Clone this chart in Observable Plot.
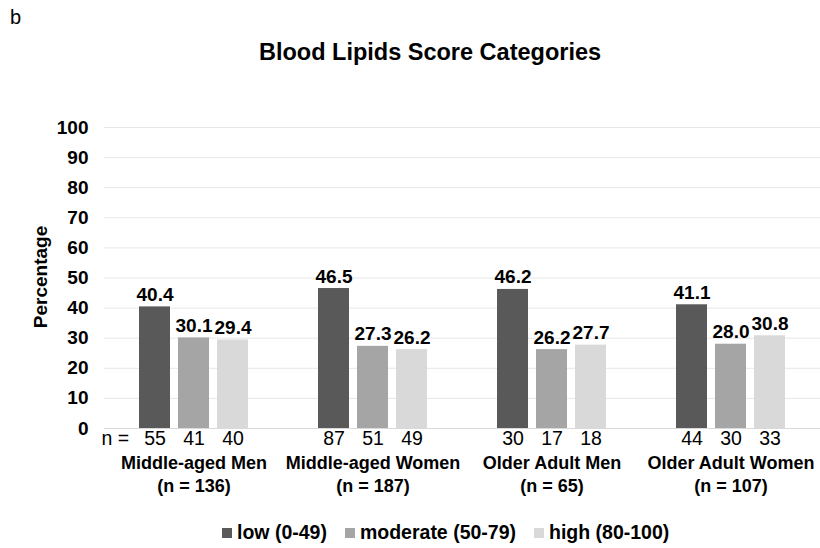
<!DOCTYPE html>
<html>
<head>
<meta charset="utf-8">
<script src="https://cdn.jsdelivr.net/npm/d3@7"></script>
<script src="https://cdn.jsdelivr.net/npm/@observablehq/plot@0.6"></script>
<style>
  html, body { margin: 0; padding: 0; background: #fff; }
  #wrap { position: relative; width: 820px; height: 548px; overflow: hidden; font-family: "Liberation Sans", Arial, sans-serif; color: #000; }
  #panel { position: absolute; left: 10px; top: 6px; font-size: 20px; }
  #title { position: absolute; left: 0; width: 860px; top: 39px; text-align: center; font-size: 23.5px; font-weight: bold; }
  #ylabel { position: absolute; left: 41px; top: 277px; transform: translate(-50%, -50%) rotate(-90deg); font-size: 19px; font-weight: bold; white-space: nowrap; }
  #chart { position: absolute; left: 0; top: 100px; }
  #legend { position: absolute; top: 521px; left: 222px; display: flex; align-items: center; font-size: 19.5px; font-weight: bold; white-space: nowrap; }
  .item { display: flex; align-items: center; margin-right: 18px; }
  .sw { width: 10px; height: 10px; margin-right: 5px; }
</style>
</head>
<body>
<div id="wrap">
  <div id="panel">b</div>
  <div id="title">Blood Lipids Score Categories</div>
  <div id="ylabel">Percentage</div>
  <div id="chart"></div>
  <div id="legend"></div>
</div>
<script>
const groups = ["Middle-aged Men", "Middle-aged Women", "Older Adult Men", "Older Adult Women"];
const groupN = [136, 187, 65, 107];
const categories = ["low (0-49)", "moderate (50-79)", "high (80-100)"];
const colors = ["#595959", "#a5a5a5", "#d9d9d9"];
const lowPct = [40.4, 46.5, 46.2, 41.1];
const moderatePct = [30.1, 27.3, 26.2, 28.0];
const highPct = [29.4, 26.2, 27.7, 30.8];
const lowN = [55, 87, 30, 44];
const moderateN = [41, 51, 17, 30];
const highN = [40, 49, 18, 33];
const yTicks = [0, 10, 20, 30, 40, 50, 60, 70, 80, 90, 100];

const pctSeries = [lowPct, moderatePct, highPct];
const nSeries = [lowN, moderateN, highN];
const rows = [];
groups.forEach((g, gi) => {
  categories.forEach((c, ci) => {
    rows.push({group: g, cat: c, pct: pctSeries[ci][gi], n: nSeries[ci][gi]});
  });
});
const groupLabel = new Map(groups.map((g, i) => [g, `${g}\n(n = ${groupN[i]})`]));

const font = "Liberation Sans, Arial, sans-serif";

const chart = Plot.plot({
  width: 820,
  height: 400,
  marginTop: 27,
  marginBottom: 72,
  marginLeft: 103,
  marginRight: 0,
  style: {fontFamily: font, background: "transparent", overflow: "visible"},
  fx: {domain: groups, padding: 0, label: null, axis: null},
  x: {domain: categories, paddingInner: 0.2, paddingOuter: 0.84, axis: null},
  y: {domain: [0, 100], axis: null},
  color: {domain: categories, range: colors},
  marks: [
    Plot.gridY(yTicks, {stroke: "#e6e6e6", strokeOpacity: 1}),
    Plot.ruleY([0], {stroke: "#d9d9d9", strokeWidth: 1.2}),
    Plot.axisY(yTicks, {tickSize: 0, tickPadding: 16, fontSize: 19, fontWeight: "bold", fill: "#000", label: null}),
    Plot.barY(rows, {fx: "group", x: "cat", y: "pct", fill: "cat"}),
    Plot.text(rows, {fx: "group", x: "cat", y: "pct", text: d => d.pct.toFixed(1), lineAnchor: "bottom", dy: -6, fontSize: 19, fontWeight: "bold", fill: "#000"}),
    Plot.text(rows, {fx: "group", x: "cat", text: d => String(d.n), frameAnchor: "bottom", dy: 16, fontSize: 19.5, fill: "#000"}),
    Plot.text([{group: groups[0]}], {fx: "group", text: () => "n = ", frameAnchor: "bottom-left", dx: -3, dy: 16, textAnchor: "start", fontSize: 19.5, fill: "#000"}),
    Plot.axisFx({anchor: "bottom", tickSize: 0, tickPadding: 25, lineAnchor: "top", lineHeight: 1.25, fontSize: 18, fontWeight: "bold", fill: "#000", label: null, tickFormat: g => groupLabel.get(g)})
  ]
});
document.getElementById("chart").appendChild(chart);

const legend = document.getElementById("legend");
categories.forEach((c, i) => {
  const item = document.createElement("div");
  item.className = "item";
  const sw = document.createElement("div");
  sw.className = "sw";
  sw.style.background = colors[i];
  const t = document.createElement("span");
  t.textContent = c;
  item.appendChild(sw);
  item.appendChild(t);
  legend.appendChild(item);
});
</script>
</body>
</html>
